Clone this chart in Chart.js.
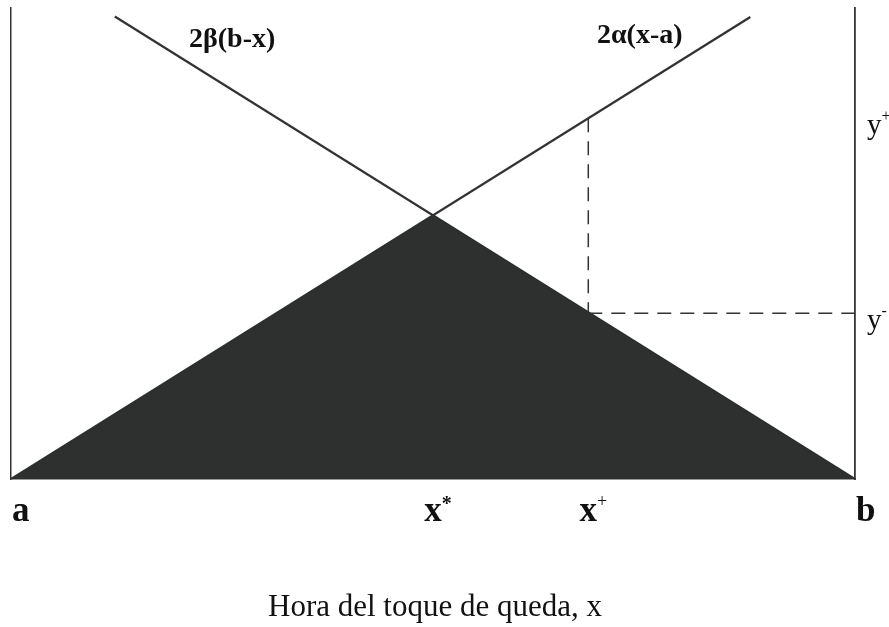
<!DOCTYPE html>
<html>
<head>
<meta charset="utf-8">
<script src="https://cdn.jsdelivr.net/npm/chart.js@4.4.1/dist/chart.umd.min.js"></script>
<style>
  html, body { margin: 0; padding: 0; background: #fff; }
  #wrap { width: 889px; height: 627px; }
</style>
</head>
<body>
<div id="wrap"><canvas id="chart" width="889" height="627"></canvas></div>
<script>
// axis ticks (a .. b on x, y- / y+ on the right)
const xTickValues = [0, 5, 6.84, 10];
const xTickBase = ['a', 'x', 'x', 'b'];
const xTickSup = ['', '*', '+', ''];
const yTickValues = [7.66, 3.52];
const yTickBase = ['y', 'y'];
const yTickSup = ['+', '-'];

// shaded triangle under both lines
const fillX = [0, 5, 10];
const fillY = [0, 5.6, 0];
// 2β(b-x)
const betaX = [1.23, 10];
const betaY = [9.82, 0];
// 2α(x-a)
const alphaX = [0, 8.76];
const alphaY = [0, 9.81];
// dashed guides
const vDashX = [6.84, 6.84];
const vDashY = [7.66, 3.52];
const hDashX = [6.84, 10];
const hDashY = [3.52, 3.52];

const lineLabels = ['2β(b-x)', '2α(x-a)'];
const lineLabelX = [2.62, 7.45];
const lineLabelY = [9.32, 9.4];
const xTitle = 'Hora del toque de queda, x';

function pts(xs, ys) {
  return xs.map((x, i) => ({ x: x, y: ys[i] }));
}

const textPlugin = {
  id: 'texts',
  afterDraw(chart) {
    const ctx = chart.ctx;
    const xs = chart.scales.x;
    const ys = chart.scales.y;
    const area = chart.chartArea;
    ctx.save();
    ctx.fillStyle = '#111';

    // x tick labels
    ctx.textBaseline = 'alphabetic';
    xTickValues.forEach((v, i) => {
      const px = xs.getPixelForValue(v);
      const by = area.bottom + 42;
      ctx.font = 'bold 35px "Liberation Serif", serif';
      const w = ctx.measureText(xTickBase[i]).width;
      let left = px - w / 2;
      if (i === 0 || i === xTickValues.length - 1) left = px + 1;
      ctx.textAlign = 'left';
      ctx.fillText(xTickBase[i], left, by);
      if (xTickSup[i]) {
        ctx.font = (xTickSup[i] === '*' ? 'bold 20px' : '18px') + ' "Liberation Serif", serif';
        ctx.fillText(xTickSup[i], left + w, by - (xTickSup[i] === '*' ? 11 : 14));
      }
    });

    // y tick labels on the right
    yTickValues.forEach((v, i) => {
      const py = ys.getPixelForValue(v);
      const left = area.right + 12;
      ctx.font = '29px "Liberation Serif", serif';
      ctx.textAlign = 'left';
      ctx.fillText(yTickBase[i], left, py + 16);
      const w = ctx.measureText(yTickBase[i]).width;
      ctx.font = '16px "Liberation Serif", serif';
      ctx.fillText(yTickSup[i], left + w, py + 3);
    });

    // line labels
    ctx.font = 'bold 28px "Liberation Serif", serif';
    ctx.textAlign = 'center';
    ctx.textBaseline = 'middle';
    lineLabels.forEach((t, i) => {
      ctx.fillText(t, xs.getPixelForValue(lineLabelX[i]), ys.getPixelForValue(lineLabelY[i]));
    });

    // axis title
    ctx.font = '31px "Liberation Serif", serif';
    ctx.textBaseline = 'alphabetic';
    ctx.fillText(xTitle, (area.left + area.right) / 2 + 2, area.bottom + 137);
    ctx.restore();
  }
};

const ink = '#333';
new Chart(document.getElementById('chart'), {
  type: 'line',
  data: {
    datasets: [
      {
        data: pts(vDashX, vDashY),
        borderColor: ink, borderWidth: 1.5, borderDash: [14, 9],
        pointRadius: 0, fill: false, order: 3
      },
      {
        data: pts(hDashX, hDashY),
        borderColor: ink, borderWidth: 1.5, borderDash: [14, 9],
        pointRadius: 0, fill: false, order: 3
      },
      {
        data: pts(betaX, betaY),
        borderColor: ink, borderWidth: 2.3,
        pointRadius: 0, fill: false, order: 2
      },
      {
        data: pts(alphaX, alphaY),
        borderColor: ink, borderWidth: 2.3,
        pointRadius: 0, fill: false, order: 2
      },
      {
        data: pts(fillX, fillY),
        borderColor: '#2b2d2d', borderWidth: 1,
        backgroundColor: '#2e3030',
        pointRadius: 0, fill: 'origin', order: 1
      }
    ]
  },
  options: {
    responsive: false,
    animation: false,
    layout: { padding: { top: 8, left: 0, right: 0, bottom: 0 } },
    plugins: { legend: { display: false }, tooltip: { enabled: false } },
    scales: {
      x: {
        type: 'linear', min: 0, max: 10,
        grid: { display: false },
        border: { display: true, color: ink, width: 1.5 },
        ticks: { display: false },
        afterFit(s) { s.height = 148; }
      },
      y: {
        type: 'linear', min: 0, max: 10, position: 'left',
        grid: { display: false },
        border: { display: true, color: ink, width: 1.5 },
        ticks: { display: false },
        afterFit(s) { s.width = 11; }
      },
      y2: {
        type: 'linear', min: 0, max: 10, position: 'right',
        grid: { display: false },
        border: { display: true, color: ink, width: 1.8 },
        ticks: { display: false },
        afterFit(s) { s.width = 34; }
      }
    }
  },
  plugins: [textPlugin]
});
</script>
</body>
</html>
